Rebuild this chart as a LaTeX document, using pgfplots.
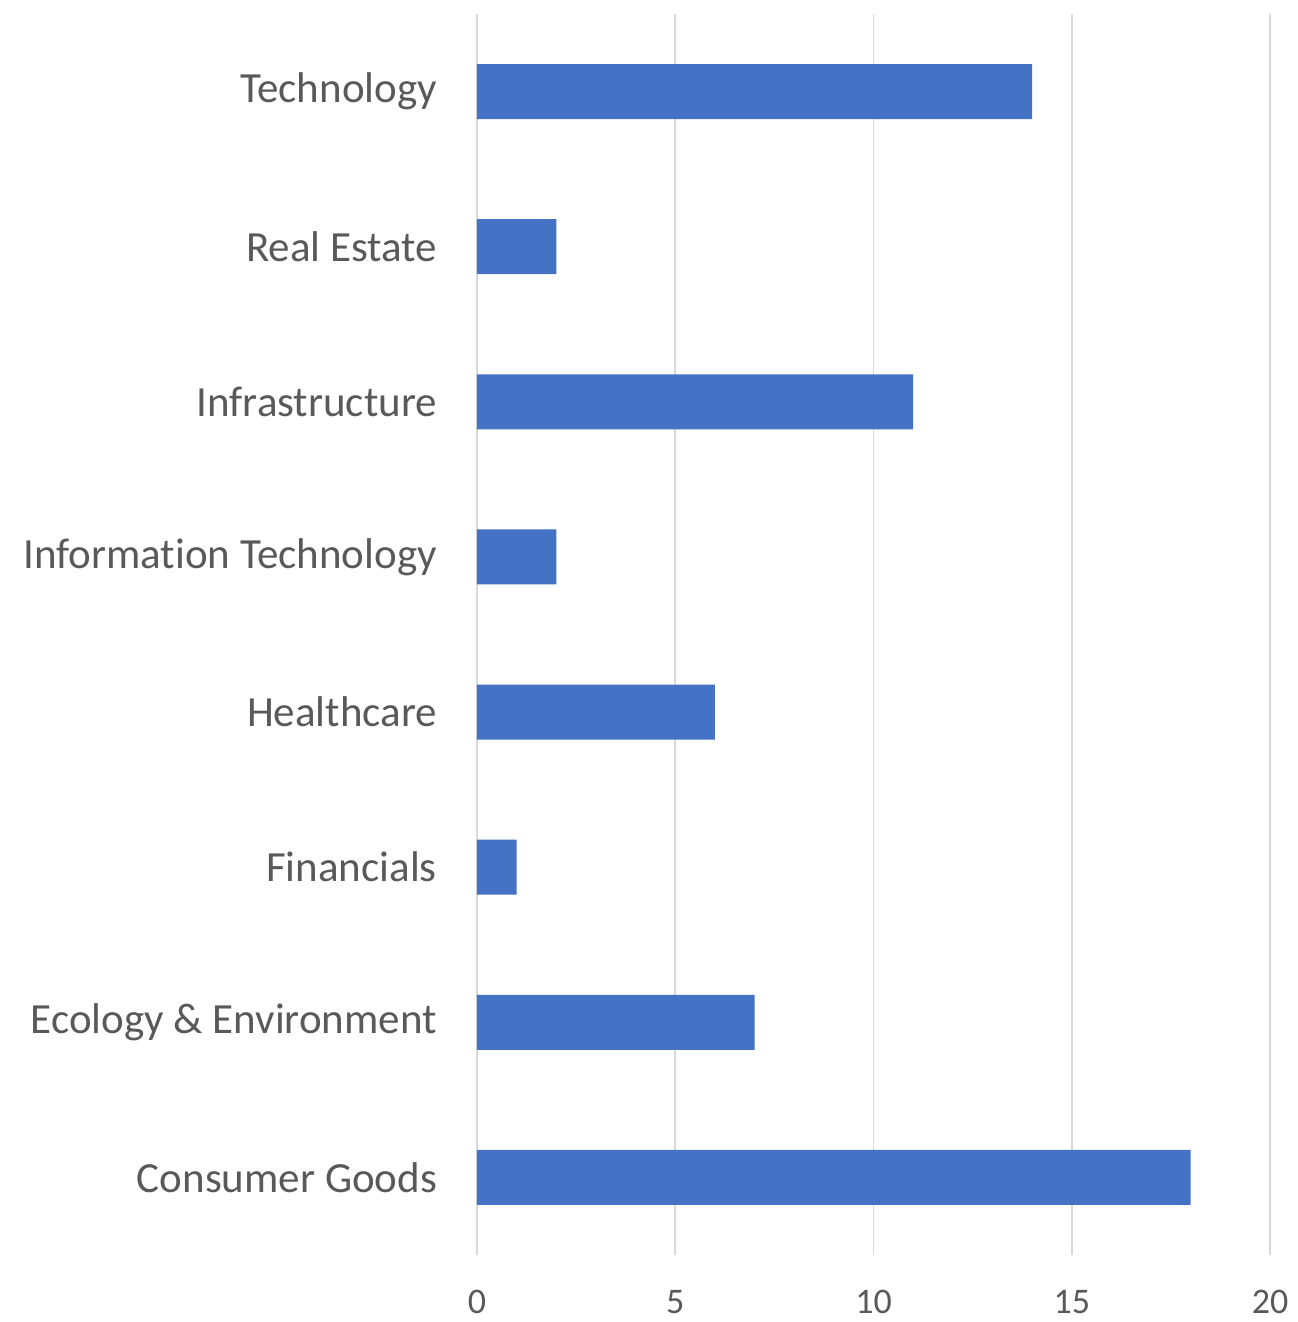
\documentclass[border=0pt]{standalone}
\usepackage{pgfplots}
\pgfplotsset{compat=1.18}
\usepackage{fontspec}
\setmainfont{Carlito}[Ligatures=CommonOff]
\definecolor{barblue}{HTML}{4472C4}
\definecolor{gridgray}{HTML}{D9D9D9}
\definecolor{txtgray}{HTML}{595959}
\begin{document}
\begin{tikzpicture}
\begin{axis}[
  name=ax,
  at={(0,0)}, anchor=south west,
  scale only axis,
  width=396.5pt, height=620.5pt,
  xbar, bar width=27.5pt,
  xmin=0, xmax=20,
  ymin=-0.5, ymax=7.5,
  xtick={0,5,10,15,20},
  ytick={0,...,7},
  yticklabels={Consumer Goods,Ecology \& Environment,Financials,Healthcare,Information Technology,Infrastructure,Real Estate,Technology},
  axis line style={draw=none},
  major tick length=0pt,
  xmajorgrids, grid style={gridgray, line width=0.9pt},
  /pgf/number format/assume math mode=true,
  xticklabel style={font=\fontsize{18}{20}\selectfont, text=txtgray, yshift=-14pt},
  yticklabel style={font=\fontsize{21.5}{24}\selectfont, text=txtgray, xshift=-16.5pt},
  clip=false,
]
\addplot[fill=barblue, draw=none] coordinates {
  (18,0) (7,1) (1,2) (6,3) (2,4) (11,5) (2,6) (14,7)
};
\end{axis}
\path (-238.5pt,-33.5pt) rectangle (410pt,627.5pt);
\end{tikzpicture}
\end{document}
